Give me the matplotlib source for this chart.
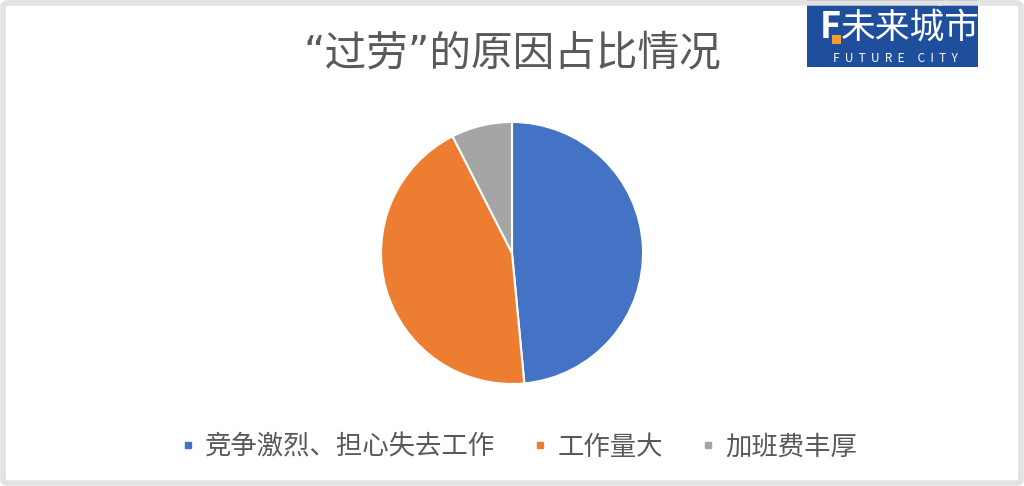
import matplotlib
matplotlib.use("Agg")
from matplotlib import pyplot as plt
from matplotlib.patches import FancyBboxPatch, Rectangle
from matplotlib.lines import Line2D

plt.rcParams['font.family'] = ['Noto Sans CJK SC', 'DejaVu Sans']

# data
labels = ["竞争激烈、担心失去工作", "工作量大", "加班费丰厚"]
values = [48.5, 44.0, 7.5]
colors = ["#4472C4", "#ED7D31", "#A5A5A5"]
title = "“过劳”的原因占比情况"

W, H = 1024, 486
fig = plt.figure(figsize=(W / 100, H / 100), dpi=100)
fig.patch.set_facecolor("white")

# pie axes: centre (512, 253) px, radius 131 px
r = 131
cx, cy = 512, 253
ax = fig.add_axes([(cx - r) / W, (H - cy - r) / H, 2 * r / W, 2 * r / H])
ax.pie(values, colors=colors, startangle=90, counterclock=False,
       wedgeprops=dict(edgecolor="white", linewidth=1.5))
ax.set_xlim(-1, 1)
ax.set_ylim(-1, 1)
ax.set_aspect("auto")
ax.axis("off")

# quotes from DejaVu (narrow), CJK from Noto
fig.text(cx / W, 1 - 53 / H, title, ha="center", va="center",
         fontsize=30, color="#595959", family=['DejaVu Sans', 'Noto Sans CJK SC'])

handles = [Line2D([0], [0], marker="s", linestyle="", markersize=4,
                  markerfacecolor=c, markeredgecolor=c) for c in colors]
fig.legend(handles, labels, loc="center", bbox_to_anchor=(0.505, 1 - 447 / H),
           ncol=3, frameon=False, fontsize=19, labelcolor="#595959",
           handletextpad=0.25, columnspacing=1.3, handlelength=0.8)

# logo top right
fig.patches.append(Rectangle((807 / W, 1 - 67 / H), 171 / W, 67 / H,
                             transform=fig.transFigure, facecolor="#1E4E9C",
                             edgecolor="none", zorder=5))
fig.text(830 / W, 1 - 28 / H, "F", ha="center", va="center", fontsize=26,
         color="white", fontweight="bold", zorder=6)
fig.patches.append(Rectangle((832 / W, 1 - 44 / H), 9 / W, 9 / H,
                             transform=fig.transFigure, facecolor="#F0A030",
                             edgecolor="none", zorder=6))
fig.text(910 / W, 1 - 28 / H, "未来城市", ha="center", va="center", fontsize=25,
         color="white", zorder=6)
fig.text(895 / W, 1 - 58 / H, "F  U  T  U  R  E     C  I  T  Y", ha="center",
         va="center", fontsize=8.5, color="white", zorder=6)
for dx, dy in [(938, 6), (945, 2)]:
    fig.patches.append(Rectangle((dx / W, 1 - dy / H), 3 / W, 3 / H,
                                 transform=fig.transFigure, facecolor="#C8D4EC",
                                 edgecolor="none", zorder=6))

# light border
fig.patches.append(FancyBboxPatch((0.003, 0.006), 0.994, 0.988,
                                  boxstyle="round,pad=0,rounding_size=0.006",
                                  transform=fig.transFigure, facecolor="none",
                                  edgecolor="#E3E3E3", linewidth=4, zorder=10))

fig.savefig("out.png", dpi=100, facecolor="white")
